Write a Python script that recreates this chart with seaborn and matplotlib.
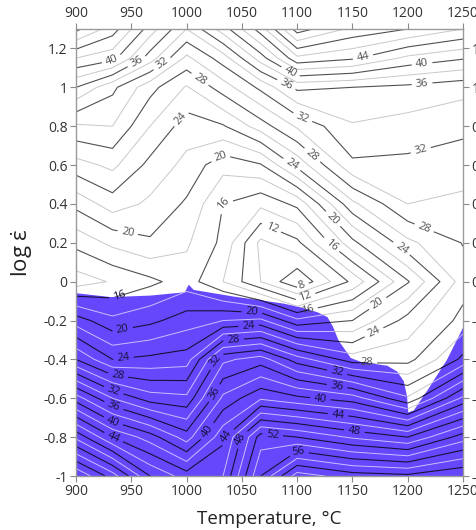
import numpy as np
import matplotlib
matplotlib.use("Agg")
import matplotlib.pyplot as plt
import seaborn as sns

sns.set_theme(style="ticks")
plt.rcParams['font.family'] = ['Open Sans', 'DejaVu Sans']
plt.rcParams['mathtext.fontset'] = 'custom'
plt.rcParams['mathtext.rm'] = 'Open Sans'
plt.rcParams['mathtext.it'] = 'Open Sans'

# Grid of the processing map
temps = [900, 933, 967, 1000, 1033, 1067, 1100, 1150, 1200, 1250]
log_rates = [-1.0, -0.8, -0.6, -0.4, -0.2, 0.0, 0.2, 0.4, 0.6, 0.8, 1.0, 1.15, 1.3]

# Efficiency of power dissipation (%), one column per temperature, listed bottom to top
eta_900 = [60, 49.5, 39, 28, 21, 13, 16.6, 20.6, 25.2, 29.7, 36, 42, 48.5]
eta_933 = [55, 44, 34, 24, 18.5, 14.2, 18.5, 23, 26.5, 30, 32.5, 40.7, 45]
eta_967 = [48, 41, 31, 24.5, 19.5, 15.5, 19.7, 21.6, 23.4, 26, 28.7, 35, 39]
eta_1000 = [45, 37, 30.5, 25, 21, 17, 18.3, 19.7, 21.4, 23, 25.8, 29.5, 34]
eta_1033 = [46, 43.5, 38.5, 33.5, 22, 14, 15.5, 16, 18.7, 23.8, 29, 33, 39]
eta_1067 = [56, 53, 41.7, 35, 22.5, 10, 9.5, 14.5, 19.8, 27, 32.5, 39, 45]
eta_1100 = [63, 52, 40.5, 31, 18.5, 6.2, 11.5, 16.5, 24.6, 30.3, 36.5, 45.5, 53]
eta_1150 = [61, 49.7, 39, 27, 20, 12.5, 19.4, 25.5, 31.6, 33.8, 36, 44.3, 49.5]
eta_1200 = [60.5, 48, 34.3, 27.3, 24.8, 19.8, 25.5, 30, 31.5, 33.2, 35.5, 41.5, 48]
eta_1250 = [62, 53, 42.5, 32.5, 28.7, 27, 28.1, 29.5, 31, 32.5, 34.7, 40.2, 46]

# Upper boundary of the flow-instability domain
unstable_T = [900, 931, 967, 998, 1001.5, 1006, 1042, 1087, 1103, 1118, 1127, 1132,
              1137, 1148, 1157, 1181, 1190, 1196, 1199, 1200, 1205, 1217, 1235, 1250]
unstable_log_rate = [-0.057, -0.077, -0.069, -0.052, -0.013, -0.04, -0.074, -0.11,
                     -0.13, -0.155, -0.18, -0.23, -0.30, -0.39, -0.41, -0.43, -0.46,
                     -0.51, -0.59, -0.67, -0.66, -0.56, -0.40, -0.23]

x_ticks = [900, 950, 1000, 1050, 1100, 1150, 1200, 1250]
y_ticks = [-1, -0.8, -0.6, -0.4, -0.2, 0, 0.2, 0.4, 0.6, 0.8, 1, 1.2]
y_tick_labels = ['-1', '-0.8', '-0.6', '-0.4', '-0.2', '0', '0.2', '0.4', '0.6',
                 '0.8', '1', '1.2']

# Label anchors for the labelled contours
labels_stable = [(933, 1.13), (956, 1.12), (978, 1.12), (1012, 1.04), (994, 0.845),
                 (1027, 0.68), (1033, 0.40), (1077, 0.28), (1105, -0.03),
                 (1109, -0.10), (1110, -0.16), (1092, 1.06), (1089, 1.0),
                 (1160, 1.145), (1213, 1.12), (1213, 1.016), (1105, 0.845),
                 (1115, 0.66), (1096, 0.61), (1213, 0.65), (1132, 0.32),
                 (1131, 0.19), (1193, 0.16), (1213, 0.25), (947, 0.26),
                 (1175, -0.13), (1172, -0.29), (1163, -0.40)]
labels_unstable = [(940, -0.09), (943, -0.27), (943, -0.40), (938, -0.48),
                   (934, -0.56), (934, -0.64), (934, -0.71), (934, -0.80),
                   (1059, -0.17), (1056, -0.22), (1042, -0.27), (1024, -0.40),
                   (1024, -0.57), (1021, -0.78), (1035, -0.79), (1050, -0.81),
                   (1078, -0.78), (1102, -0.85), (1136, -0.47), (1136, -0.54),
                   (1121, -0.60), (1137, -0.68), (1152, -0.76)]

Z = np.column_stack([eta_900, eta_933, eta_967, eta_1000, eta_1033, eta_1067,
                     eta_1100, eta_1150, eta_1200, eta_1250])
TT, YY = np.meshgrid(temps, log_rates)
major_levels = np.arange(4, 68, 4)
minor_levels = np.arange(6, 68, 4)

fig = plt.figure(figsize=(4.76, 5.30), dpi=100)
ax = fig.add_axes([76 / 476, 1 - 476 / 530, 387 / 476, 447 / 530])

# contours over the stable (white) domain
ax.contour(TT, YY, Z, levels=minor_levels, colors='#c8c8c8', linewidths=0.7, zorder=2)
cs_major = ax.contour(TT, YY, Z, levels=major_levels, colors='#505050',
                      linewidths=0.8, zorder=3)
ax.clabel(cs_major, fmt='%d', manual=labels_stable, inline=True, fontsize=8,
          inline_spacing=4)

# instability domain
blue = '#6747fb'
poly = ax.fill_between(unstable_T, -1, unstable_log_rate, color=blue, lw=0, zorder=4)
clip_path = poly.get_paths()[0]

cs_minor_u = ax.contour(TT, YY, Z, levels=minor_levels, colors='#c8c0ff',
                        linewidths=0.7, zorder=5)
cs_major_u = ax.contour(TT, YY, Z, levels=major_levels, colors='#15123a',
                        linewidths=0.8, zorder=6)
cs_minor_u.set_clip_path(clip_path, ax.transData)
cs_major_u.set_clip_path(clip_path, ax.transData)
ax.clabel(cs_major_u, fmt='%d', manual=labels_unstable, inline=True, fontsize=8,
          inline_spacing=4)

ax.set_xlim(900, 1250)
ax.set_ylim(-1, 1.3)
ax.set_xticks(x_ticks)
ax.set_yticks(y_ticks)
ax.set_yticklabels(y_tick_labels)
ax.tick_params(axis='both', which='both', direction='out', length=4, width=0.8,
               color='#8a8a8a', labelsize=10, labelcolor='#333333',
               top=True, labeltop=True, right=True, labelright=True, pad=2)
for side in ax.spines.values():
    side.set_color('#9a9a9a')
    side.set_linewidth(1.0)
    side.set_zorder(10)

ax.set_xlabel('Temperature, °C', fontsize=13.5, color='#222222', labelpad=8)
ax.set_ylabel(r'log $\dot{\varepsilon}$', fontsize=16, color='#222222', labelpad=6)

fig.savefig('out.png', dpi=100)
